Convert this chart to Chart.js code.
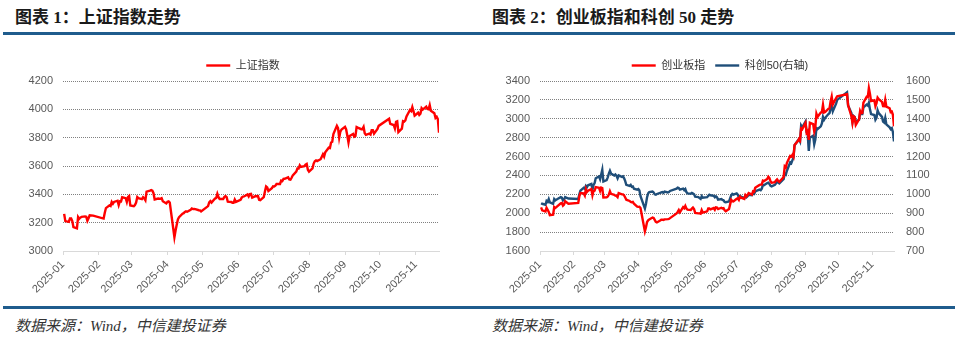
<!DOCTYPE html>
<html lang="zh-CN">
<head>
<meta charset="utf-8">
<title>上证指数 / 创业板指和科创50走势</title>
<script src="https://cdn.jsdelivr.net/npm/chart.js@4.4.1/dist/chart.umd.min.js"></script>
<style>
  html, body { margin: 0; padding: 0; background: #fff; }
  body { width: 960px; height: 340px; position: relative; overflow: hidden; }
  .title { position: absolute; top: 8px; font: bold 17px/20px "Liberation Serif", "Noto Sans CJK SC", serif; color: #1a1a1a; white-space: nowrap; }
  .rule { position: absolute; height: 3px; background: #1F5C8D; }
  .src { position: absolute; top: 316px; font: italic 15px/20px "Liberation Serif", "Noto Sans CJK SC", serif; color: #333; white-space: nowrap; }
  .box { position: absolute; top: 40px; width: 480px; height: 265px; }
</style>
</head>
<body>
  <div class="title" style="left:15px">图表 1：上证指数走势</div>
  <div class="title" style="left:492px">图表 2：创业板指和科创 50 走势</div>
  <div class="rule" style="left:3px;width:477px;top:32px"></div>
  <div class="rule" style="left:480px;width:475px;top:32px"></div>

  <div class="box" style="left:0"><canvas id="chartSH" width="480" height="265"></canvas></div>
  <div class="box" style="left:480px"><canvas id="chartCY" width="480" height="265"></canvas></div>

  <div class="rule" style="left:3px;width:477px;top:306px"></div>
  <div class="rule" style="left:480px;width:475px;top:306px"></div>
  <div class="src" style="left:15px">数据来源：Wind，中信建投证券</div>
  <div class="src" style="left:492px">数据来源：Wind，中信建投证券</div>

<script>
const monthLabels = ['2025-01', '2025-02', '2025-03', '2025-04', '2025-05', '2025-06',
  '2025-07', '2025-08', '2025-09', '2025-10', '2025-11'];

// trading days (month-day)
const tradeDays = [
  '1-2','1-3','1-6','1-7','1-8','1-9','1-10','1-13','1-14','1-15','1-16','1-17','1-20','1-21','1-22','1-23','1-24','1-27',
  '2-5','2-6','2-7','2-10','2-11','2-12','2-13','2-14','2-17','2-18','2-19','2-20','2-21','2-24','2-25','2-26','2-27','2-28',
  '3-3','3-4','3-5','3-6','3-7','3-10','3-11','3-12','3-13','3-14','3-17','3-18','3-19','3-20','3-21','3-24','3-25','3-26','3-27','3-28','3-31',
  '4-1','4-2','4-3','4-7','4-8','4-9','4-10','4-11','4-14','4-15','4-16','4-17','4-18','4-21','4-22','4-23','4-24','4-25','4-28','4-29','4-30',
  '5-6','5-7','5-8','5-9','5-12','5-13','5-14','5-15','5-16','5-19','5-20','5-21','5-22','5-23','5-26','5-27','5-28','5-29','5-30',
  '6-3','6-4','6-5','6-6','6-9','6-10','6-11','6-12','6-13','6-16','6-17','6-18','6-19','6-20','6-23','6-24','6-25','6-26','6-27','6-30',
  '7-1','7-2','7-3','7-4','7-7','7-8','7-9','7-10','7-11','7-14','7-15','7-16','7-17','7-18','7-21','7-22','7-23','7-24','7-25','7-28','7-29','7-30','7-31',
  '8-1','8-4','8-5','8-6','8-7','8-8','8-11','8-12','8-13','8-14','8-15','8-18','8-19','8-20','8-21','8-22','8-25','8-26','8-27','8-28','8-29',
  '9-1','9-2','9-3','9-4','9-5','9-8','9-9','9-10','9-11','9-12','9-15','9-16','9-17','9-18','9-19','9-22','9-23','9-24','9-25','9-26','9-29','9-30',
  '10-9','10-10','10-13','10-14','10-15','10-16','10-17','10-20','10-21','10-22','10-23','10-24','10-27','10-28','10-29','10-30','10-31',
  '11-3','11-4','11-5','11-6','11-7','11-10','11-11','11-12','11-13','11-14','11-17','11-18','11-19','11-20','11-21'
];

const shIndex = [
  3262,3211,3206,3230,3230,3211,3168,3160,3240,3227,3236,3241,3244,3242,3213,3231,3252,3250,
  3229,3270,3303,3322,3318,3346,3333,3346,3355,3324,3351,3350,3379,3373,3346,3380,3388,3321,
  3316,3325,3342,3381,3373,3366,3380,3371,3358,3419,3426,3430,3426,3408,3364,3370,3369,3368,3373,3351,3336,
  3348,3350,3342,3097,3145,3186,3223,3238,3263,3267,3276,3280,3277,3291,3300,3296,3297,3295,3288,3287,3279,
  3317,3343,3352,3342,3370,3374,3404,3380,3367,3367,3381,3388,3380,3348,3346,3340,3340,3363,3347,
  3361,3377,3384,3385,3399,3385,3402,3403,3377,3388,3387,3388,3362,3359,3381,3420,3455,3448,3424,3444,
  3457,3455,3461,3473,3473,3497,3494,3509,3510,3520,3505,3503,3517,3534,3560,3582,3582,3605,3593,3598,3610,3615,3573,
  3560,3583,3617,3634,3640,3635,3648,3665,3683,3666,3697,3729,3727,3766,3771,3826,3884,3868,3800,3843,3858,
  3876,3858,3813,3766,3812,3826,3807,3812,3875,3871,3860,3861,3876,3831,3820,3828,3822,3853,3853,3828,3862,3883,
  3933,3897,3889,3865,3912,3916,3839,3864,3917,3914,3922,3950,3996,3988,4016,3987,3955,
  3976,3960,3969,4008,3998,4019,4002,4000,4030,3990,3972,3939,3947,3931,3835
];

const cyIndex = [
  2062,2030,2019,2057,2037,2014,1979,1984,2066,2056,2065,2075,2105,2109,2080,2092,2127,2100,
  2109,2180,2213,2210,2188,2256,2225,2238,2255,2190,2235,2240,2276,2270,2236,2272,2267,2167,
  2168,2177,2198,2233,2205,2195,2186,2183,2170,2213,2200,2200,2189,2167,2143,2130,2120,2116,2119,2100,2070,
  2067,2069,2055,1808,1852,1907,1924,1935,1955,1950,1930,1908,1902,1923,1931,1932,1929,1935,1937,1940,1948,
  1998,2015,2034,2010,2064,2053,2077,2050,2038,2035,2048,2060,2045,2004,1998,1998,1995,2032,2007,
  2020,2050,2050,2040,2055,2037,2062,2060,2044,2058,2050,2054,2032,2022,2044,2093,2142,2128,2124,2153,
  2158,2141,2175,2165,2152,2193,2179,2192,2213,2198,2232,2228,2270,2278,2300,2303,2305,2345,2340,2362,2386,2373,2337,
  2322,2328,2347,2358,2342,2333,2370,2386,2496,2485,2534,2606,2600,2618,2597,2723,2763,2785,2770,2898,2890,
  2956,2854,2870,2776,2958,2944,2866,2912,3053,3020,3066,3071,3148,3066,3071,3107,3111,3185,3235,3152,3220,3238,
  3261,3143,3029,2955,3025,3015,2935,2993,3083,3059,3062,3171,3234,3229,3324,3263,3187,
  3196,3134,3166,3224,3208,3178,3135,3134,3201,3129,3111,3071,3076,3042,2920
];

const kc50Index = [
  953,950,945,965,960,975,958,950,975,968,972,975,985,982,968,972,985,978,
  975,1000,1020,1035,1030,1045,1038,1048,1055,1025,1050,1060,1085,1095,1080,1105,1130,1068,
  1075,1090,1110,1125,1110,1100,1105,1098,1085,1100,1092,1095,1085,1070,1050,1045,1050,1040,1042,1030,1025,
  1028,1020,990,925,950,985,1005,1012,1015,1010,1000,998,1002,1008,1010,1012,1008,1015,1010,1012,1018,
  1030,1035,1033,1025,1030,1022,1028,1012,1005,1003,1008,1005,1000,988,985,980,976,990,982,
  985,992,998,995,992,985,990,985,972,975,970,968,960,958,962,978,995,1002,998,1005,
  998,985,990,988,980,992,985,990,998,995,1005,1002,1015,1018,1025,1022,1030,1050,1048,1060,1062,1055,1045,
  1042,1050,1058,1068,1062,1058,1075,1080,1110,1105,1125,1170,1165,1180,1195,1260,1285,1292,1280,1365,1355,
  1385,1330,1320,1230,1300,1310,1265,1290,1350,1345,1360,1375,1410,1395,1405,1425,1430,1455,1475,1440,1480,1500,
  1540,1470,1430,1385,1415,1410,1385,1395,1430,1425,1425,1460,1475,1470,1485,1450,1425,
  1420,1395,1405,1445,1430,1410,1385,1380,1405,1370,1355,1345,1350,1330,1280
];

const shTicks = [3000, 3200, 3400, 3600, 3800, 4000, 4200];
const cyTicks = [1600, 1800, 2000, 2200, 2400, 2600, 2800, 3000, 3200, 3400];
const kcTicks = [700, 800, 900, 1000, 1100, 1200, 1300, 1400, 1500, 1600];

const FONT = '"Liberation Sans", "Noto Sans CJK SC", sans-serif';
const RED = '#FF0000';
const BLUE = '#1F4E79';

// hari dalam tahun, 1 Jan = 0
const DAY0 = Date.UTC(2025, 0, 1);
function dayOf(md) {
  const [m, d] = md.split('-').map(Number);
  return (Date.UTC(2025, m - 1, d) - DAY0) / 86400000;
}
const xs = tradeDays.map(dayOf);
const monthTicks = monthLabels.map(l => {
  const [y, m] = l.split('-').map(Number);
  return (Date.UTC(y, m - 1, 1) - DAY0) / 86400000;
});
const toPoints = arr => xs.map((x, i) => ({ x: x, y: arr[i] }));

function xAxis() {
  return {
    type: 'linear',
    min: 0,
    max: xs[xs.length - 1],
    afterBuildTicks: s => { s.ticks = monthTicks.map(v => ({ value: v })); },
    afterFit: s => { s.height = 54; },
    grid: { drawOnChartArea: false, drawTicks: true, tickLength: 4, color: '#d9d9d9' },
    border: { display: true, color: '#d9d9d9' },
    ticks: {
      autoSkip: false, minRotation: 45, maxRotation: 45, padding: 3,
      color: '#595959', font: { size: 11, family: FONT },
      callback: (v, i) => monthLabels[i]
    }
  };
}

function yAxis(ticks, width, position, withGrid) {
  return {
    type: 'linear',
    position: position,
    min: ticks[0],
    max: ticks[ticks.length - 1],
    afterBuildTicks: s => { s.ticks = ticks.map(v => ({ value: v })); },
    afterFit: s => { s.width = width; },
    grid: {
      display: withGrid,
      drawTicks: false,
      color: c => c.index === 0 ? 'rgba(0,0,0,0)' : '#808080'
    },
    border: { display: false, dash: [1, 1] },
    ticks: {
      padding: position === 'right' ? 12 : 10,
      color: '#595959', font: { size: 11, family: FONT },
      callback: v => String(v)
    }
  };
}

// kolom kosong di kanan grafik kiri, supaya legenda tetap di tengah panel
function spacerAxis(width) {
  return {
    type: 'linear', position: 'right', display: true,
    afterFit: s => { s.width = width; },
    grid: { display: false }, border: { display: false }, ticks: { display: false }
  };
}

function legendOpts() {
  return {
    position: 'top',
    labels: {
      usePointStyle: true, pointStyle: 'line', pointStyleWidth: 24,
      padding: 10, color: '#333', font: { size: 11, family: FONT }
    }
  };
}

function lineSet(label, arr, color, axis) {
  return {
    label: label, data: toPoints(arr), yAxisID: axis,
    borderColor: color, backgroundColor: color, borderWidth: 2.4,
    pointRadius: 0, tension: 0
  };
}

new Chart(document.getElementById('chartSH'), {
  type: 'line',
  data: { datasets: [lineSet('上证指数', shIndex, RED, 'y')] },
  options: {
    responsive: false, animation: false, devicePixelRatio: 1,
    layout: { padding: { top: 10, left: 6, right: 0, bottom: 0 } },
    plugins: { legend: legendOpts(), tooltip: { enabled: false } },
    scales: { x: xAxis(), y: yAxis(shTicks, 57, 'left', true), pad: spacerAxis(41) }
  }
});

new Chart(document.getElementById('chartCY'), {
  type: 'line',
  data: {
    datasets: [
      lineSet('创业板指', cyIndex, RED, 'y'),
      lineSet('科创50(右轴)', kc50Index, BLUE, 'y1')
    ]
  },
  options: {
    responsive: false, animation: false, devicePixelRatio: 1,
    layout: { padding: { top: 10, left: 0, right: 0, bottom: 0 } },
    plugins: { legend: legendOpts(), tooltip: { enabled: false } },
    scales: {
      x: xAxis(),
      y: yAxis(cyTicks, 60, 'left', true),
      y1: yAxis(kcTicks, 66, 'right', false)
    }
  }
});
</script>
</body>
</html>
